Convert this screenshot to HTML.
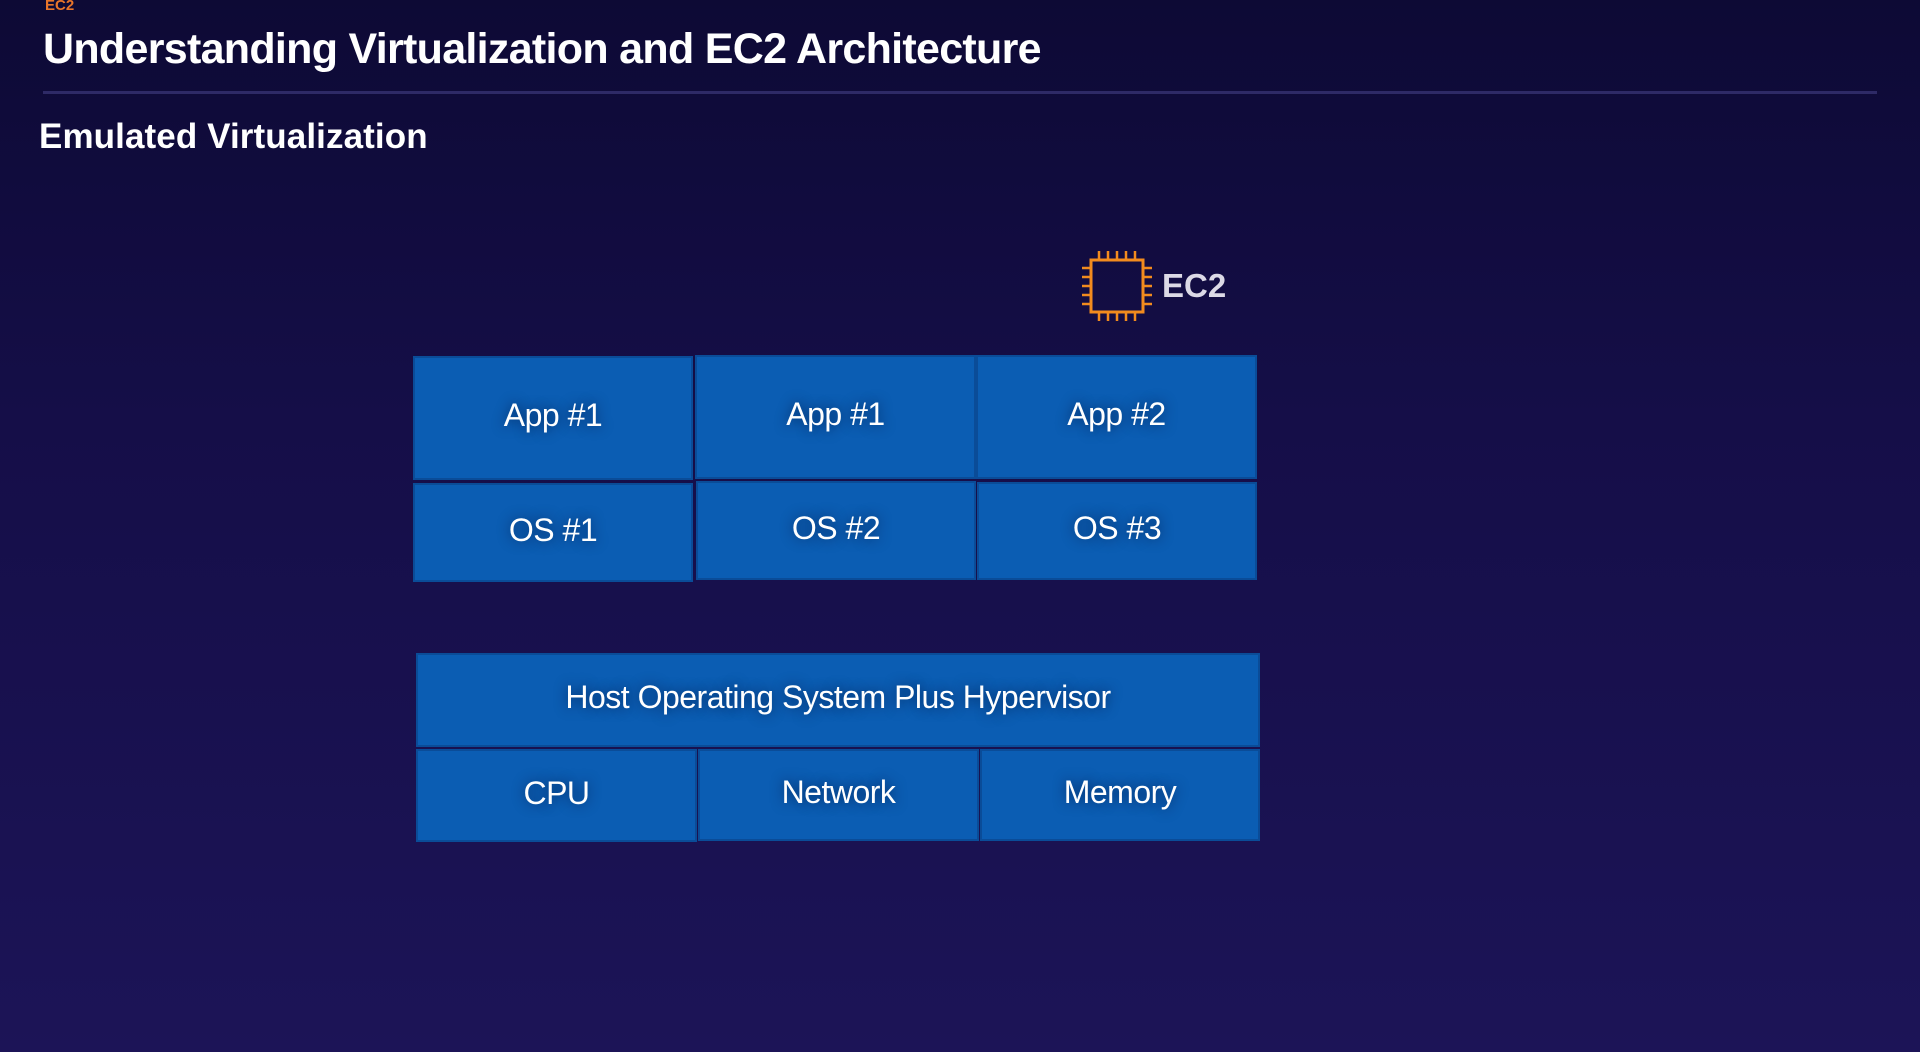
<!DOCTYPE html>
<html><head><style>
html,body{margin:0;padding:0}
body{width:1920px;height:1052px;overflow:hidden;position:relative;background:linear-gradient(180deg,#0d0a35 0%,#150e48 40%,#1c1457 100%);font-family:"Liberation Sans",sans-serif;}
.t{position:absolute;color:#fff;font-weight:bold;white-space:nowrap}
.b{position:absolute;box-sizing:border-box;background:#0b5db3;border:2px solid #0a4c98;color:#fff;display:flex;align-items:center;justify-content:center;font-size:32px;text-shadow:0 0 12px rgba(0,20,60,0.7);letter-spacing:-0.5px;padding-bottom:5px}
</style></head><body>
<div class="t" style="left:45px;top:-3px;font-size:15px;color:#e8752a">EC2</div>
<div class="t" style="left:43px;top:25px;font-size:43px;letter-spacing:-0.7px">Understanding Virtualization and EC2 Architecture</div>
<div style="position:absolute;left:43px;top:91px;width:1834px;height:3px;background:#2e2a66"></div>
<div class="t" style="left:39px;top:117px;font-size:35px;letter-spacing:0.1px">Emulated Virtualization</div>
<svg style="position:absolute;left:1080px;top:249px" width="74" height="74" viewBox="0 0 74 74">
<rect x="11" y="11" width="52" height="52" fill="none" stroke="#f28b1e" stroke-width="3"/>
<g stroke="#f28b1e" stroke-width="2.5">
<line x1="19" y1="2" x2="19" y2="11"/><line x1="28" y1="2" x2="28" y2="11"/><line x1="37" y1="2" x2="37" y2="11"/><line x1="46" y1="2" x2="46" y2="11"/><line x1="55" y1="2" x2="55" y2="11"/>
<line x1="19" y1="63" x2="19" y2="72"/><line x1="28" y1="63" x2="28" y2="72"/><line x1="37" y1="63" x2="37" y2="72"/><line x1="46" y1="63" x2="46" y2="72"/><line x1="55" y1="63" x2="55" y2="72"/>
<line x1="2" y1="19" x2="11" y2="19"/><line x1="2" y1="28" x2="11" y2="28"/><line x1="2" y1="37" x2="11" y2="37"/><line x1="2" y1="46" x2="11" y2="46"/><line x1="2" y1="55" x2="11" y2="55"/>
<line x1="63" y1="19" x2="72" y2="19"/><line x1="63" y1="28" x2="72" y2="28"/><line x1="63" y1="37" x2="72" y2="37"/><line x1="63" y1="46" x2="72" y2="46"/><line x1="63" y1="55" x2="72" y2="55"/>
</g></svg>
<div class="t" style="left:1162px;top:267px;font-size:33px;color:#dcdae6">EC2</div>

<div class="b" style="left:413px;top:356px;width:280px;height:124px">App #1</div>
<div class="b" style="left:695px;top:355px;width:281px;height:124px">App #1</div>
<div class="b" style="left:976px;top:355px;width:281px;height:124px">App #2</div>
<div class="b" style="left:413px;top:483px;width:280px;height:99px">OS #1</div>
<div class="b" style="left:696px;top:481px;width:280px;height:99px">OS #2</div>
<div class="b" style="left:977px;top:482px;width:280px;height:98px">OS #3</div>

<div class="b" style="left:416px;top:653px;width:844px;height:94px">Host Operating System Plus Hypervisor</div>
<div class="b" style="left:416px;top:749px;width:281px;height:93px">CPU</div>
<div class="b" style="left:698px;top:749px;width:281px;height:92px">Network</div>
<div class="b" style="left:980px;top:749px;width:280px;height:92px">Memory</div>
</body></html>
